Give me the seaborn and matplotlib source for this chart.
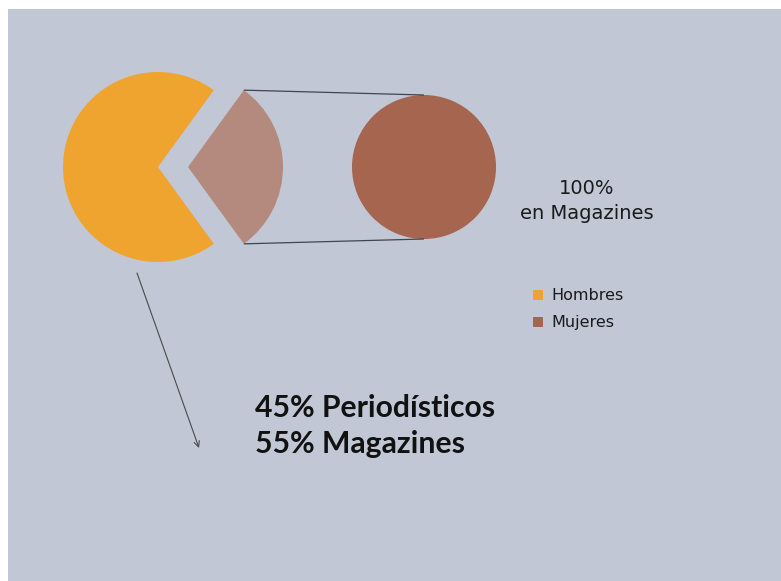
import matplotlib
matplotlib.use("Agg")
import matplotlib.pyplot as plt
from matplotlib.patches import Rectangle, Patch
import numpy as np
import seaborn as sns

# Data
categories = ["Hombres", "Mujeres"]
shares = [70, 30]                      # split of the main pie
secondary_labels = ["Magazines"]
secondary_shares = [100]               # breakdown of "Mujeres"
note_lines = ["45% Periodísticos", "55% Magazines"]
secondary_note = "100%\nen Magazines"

sns.set_theme(style="white")
plt.rcParams["font.family"] = ["DejaVu Sans"]

palette = sns.color_palette(["#F0A430", "#A5654E"])
exploded_color = "#B58A7E"
panel_color = "#C1C7D5"

W, H = 781, 581
fig = plt.figure(figsize=(W / 100, H / 100), dpi=100, facecolor="white")
ax = fig.add_axes([0, 0, 1, 1])

ax.add_patch(Rectangle((8, 0), W - 8, H - 9, facecolor=panel_color,
                       edgecolor="none", zorder=0))

# Main pie: Mujeres slice centred on 0 degrees, pulled out to the right
main_center = (158, 414)
main_r = 95
pull = 30
mujeres = shares[1]
half = mujeres / sum(shares) * 360 / 2
ax.pie([shares[1], shares[0]], center=main_center, radius=main_r,
       startangle=-half, counterclock=True, explode=[pull, 0],
       colors=[exploded_color, palette[0]],
       wedgeprops=dict(linewidth=0), frame=True)

# Secondary pie
sec_center = (424, 414)
sec_r = 72
ax.pie(secondary_shares, center=sec_center, radius=sec_r,
       colors=[palette[1]], wedgeprops=dict(linewidth=0), frame=True)

ax.set_xlim(0, W)
ax.set_ylim(0, H)
ax.set_aspect("equal")
ax.axis("off")

# Connector lines from the pulled slice to the secondary pie
apex = (main_center[0] + pull, main_center[1])
for sgn in (1, -1):
    a = np.deg2rad(sgn * half)
    p0 = (apex[0] + main_r * np.cos(a), apex[1] + main_r * np.sin(a))
    p1 = (sec_center[0], sec_center[1] + sgn * sec_r)
    ax.plot([p0[0], p1[0]], [p0[1], p1[1]], color="#3F4650", lw=0.9,
            solid_capstyle="butt", zorder=3)

ax.text(587, H - 201, secondary_note, ha="center", va="center",
        fontsize=14, color="#1A1A1A", linespacing=1.4,
        family=["DejaVu Sans"])

handles = [Patch(facecolor=c, edgecolor="none") for c in palette]
ax.legend(handles, categories, loc="upper left",
          bbox_to_anchor=(519 / W, (H - 274) / H), frameon=False,
          prop=dict(family=["DejaVu Sans"], size=11.5),
          handlelength=0.6, handleheight=0.6,
          handletextpad=0.5, labelspacing=0.75, labelcolor="#1A1A1A")

# Arrow pointing to the breakdown of Hombres
ax.annotate("", xy=(199, H - 448), xytext=(137, H - 273),
            arrowprops=dict(arrowstyle="->", color="#4A4A4A", lw=0.8,
                            shrinkA=0, shrinkB=0, mutation_scale=10))

ax.text(255, H - 417, note_lines[0], ha="left", va="baseline",
        fontsize=21.7, fontweight="bold", family=["Lato", "DejaVu Sans"],
        color="#111111")
ax.text(255, H - 453, note_lines[1], ha="left", va="baseline",
        fontsize=21.7, fontweight="bold", family=["Lato", "DejaVu Sans"],
        color="#111111")

fig.savefig("out.png", dpi=100, facecolor="white")
